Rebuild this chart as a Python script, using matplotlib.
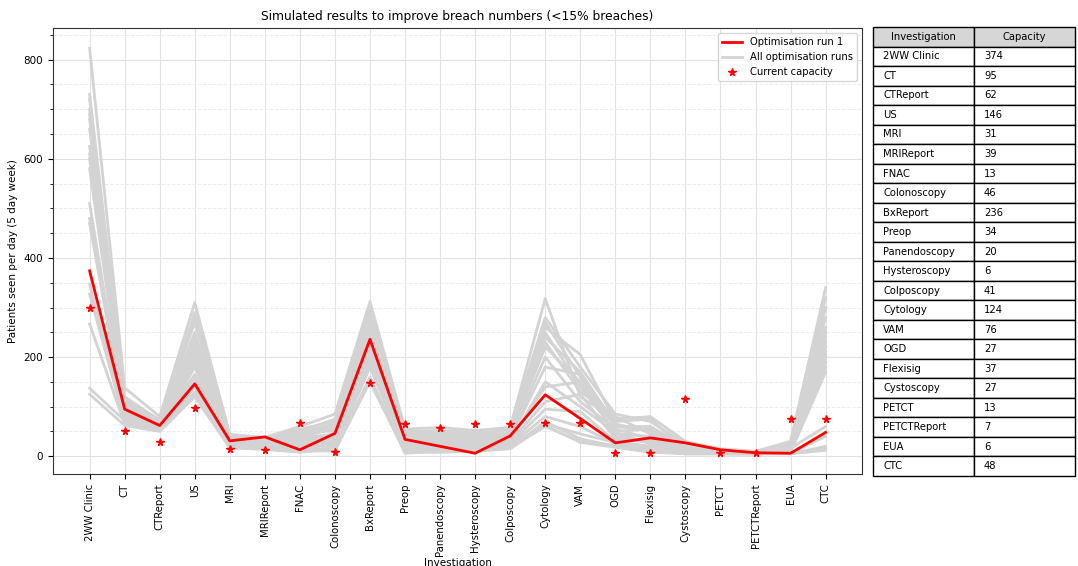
import matplotlib
matplotlib.use("Agg")
import matplotlib.pyplot as plt
from matplotlib.ticker import AutoMinorLocator

investigations = ["2WW Clinic", "CT", "CTReport", "US", "MRI", "MRIReport", "FNAC",
                  "Colonoscopy", "BxReport", "Preop", "Panendoscopy", "Hysteroscopy",
                  "Colposcopy", "Cytology", "VAM", "OGD", "Flexisig", "Cystoscopy",
                  "PETCT", "PETCTReport", "EUA", "CTC"]

# optimisation run 1 (also shown in the table)
run1 = [374, 95, 62, 146, 31, 39, 13, 46, 236, 34, 20, 6, 41, 124, 76, 27, 37, 27, 13, 7, 6, 48]

# present day capacity
current = [300, 50, 28, 97, 14, 12, 68, 8, 148, 66, 57, 66, 66, 68, 68, 7, 7, 115, 6, 6, 75, 75]

# remaining optimisation runs
runs = [
    [823, 138, 80, 310, 44, 38, 60, 85, 312, 55, 58, 52, 58, 318, 120, 75, 80, 30, 15, 10, 30, 340],
    [730, 120, 72, 290, 40, 32, 55, 70, 300, 50, 52, 48, 55, 280, 180, 85, 70, 25, 12, 9, 28, 320],
    [720, 110, 70, 270, 38, 30, 50, 75, 290, 45, 45, 40, 50, 270, 160, 60, 60, 20, 10, 8, 25, 300],
    [700, 105, 68, 280, 36, 35, 45, 60, 285, 40, 50, 45, 48, 260, 205, 70, 75, 15, 10, 8, 22, 280],
    [690, 100, 66, 250, 34, 28, 48, 65, 270, 52, 40, 35, 45, 250, 140, 50, 55, 18, 9, 7, 20, 260],
    [680, 115, 74, 240, 40, 25, 40, 55, 280, 48, 45, 42, 52, 240, 170, 65, 50, 12, 8, 7, 18, 250],
    [660, 95, 65, 230, 30, 22, 52, 50, 260, 42, 38, 30, 40, 230, 130, 80, 45, 10, 8, 6, 15, 240],
    [625, 98, 62, 220, 32, 30, 35, 45, 250, 38, 42, 38, 44, 220, 150, 45, 40, 14, 7, 6, 20, 230],
    [610, 90, 60, 210, 28, 20, 42, 40, 240, 35, 35, 28, 38, 200, 110, 55, 35, 8, 6, 6, 12, 220],
    [600, 88, 58, 200, 26, 24, 30, 38, 230, 30, 30, 25, 35, 180, 165, 40, 30, 10, 7, 6, 14, 210],
    [580, 85, 60, 190, 30, 18, 38, 35, 220, 28, 28, 22, 30, 150, 100, 48, 25, 9, 6, 5, 10, 200],
    [510, 80, 55, 180, 24, 20, 28, 30, 210, 25, 25, 20, 28, 110, 125, 35, 28, 12, 6, 5, 12, 190],
    [480, 75, 56, 160, 22, 16, 25, 25, 200, 20, 22, 18, 25, 95, 90, 30, 20, 8, 5, 5, 8, 180],
    [470, 78, 52, 150, 20, 15, 20, 20, 190, 15, 18, 15, 22, 80, 60, 25, 18, 6, 5, 5, 8, 170],
    [347, 82, 60, 165, 28, 22, 32, 28, 205, 32, 30, 26, 32, 140, 150, 60, 52, 16, 8, 6, 16, 60],
    [327, 70, 54, 140, 25, 18, 15, 15, 180, 10, 15, 12, 20, 65, 45, 28, 15, 5, 5, 5, 6, 40],
    [267, 65, 52, 130, 18, 14, 10, 12, 150, 8, 12, 10, 18, 60, 30, 22, 12, 5, 5, 5, 5, 20],
    [137, 72, 58, 125, 20, 16, 12, 10, 160, 6, 10, 14, 16, 70, 35, 20, 10, 6, 5, 5, 6, 15],
    [125, 62, 50, 120, 17, 14, 8, 15, 155, 8, 8, 10, 15, 62, 28, 18, 8, 5, 5, 5, 5, 12],
]

fig = plt.figure(figsize=(10.78, 5.66), dpi=100)
ax = fig.add_axes([0.049, 0.1625, 0.751, 0.788])

for i, r in enumerate(runs):
    ax.plot(investigations, r, color="#d3d3d3", lw=2,
            label="All optimisation runs" if i == 0 else None, zorder=2)
ax.plot(investigations, run1, color="red", lw=2, label="Optimisation run 1", zorder=3)
ax.plot(investigations, current, "*", color="red", ms=5.5, label="Current capacity", zorder=4)

ax.set_title("Simulated results to improve breach numbers (<15% breaches)", fontsize=8.8)
ax.set_xlabel("Investigation", fontsize=7.5, labelpad=1)
ax.set_ylabel("Patients seen per day (5 day week)", fontsize=7.5)
ax.tick_params(axis="x", labelrotation=90, labelsize=7.3)
ax.tick_params(axis="y", labelsize=7.5)
ax.set_yticks([0, 200, 400, 600, 800])
ax.yaxis.set_minor_locator(AutoMinorLocator(4))
ax.grid(which="major", color="#e2e2e2", lw=0.8)
ax.grid(which="minor", axis="y", color="#ececec", lw=0.7, ls="--")
ax.set_axisbelow(True)
for s in ax.spines.values():
    s.set_color("#333333")

h, l = ax.get_legend_handles_labels()
order = [l.index("Optimisation run 1"), l.index("All optimisation runs"), l.index("Current capacity")]
ax.legend([h[k] for k in order], [l[k] for k in order], loc="upper right", fontsize=7.2)

# capacity table for run 1
tax = fig.add_axes([0.810, 0.159, 0.187, 0.793])
tax.axis("off")
cells = [[n, str(v)] for n, v in zip(investigations, run1)]
tbl = tax.table(cellText=cells, colLabels=["Investigation", "Capacity"],
                cellLoc="left", colLoc="center", bbox=[0, 0, 1, 1])
tbl.auto_set_font_size(False)
tbl.set_fontsize(7.2)
for (row, col), cell in tbl.get_celld().items():
    cell.set_linewidth(1)
    if row == 0:
        cell.set_facecolor("#d6d6d6")

fig.savefig("out.png", dpi=100)
